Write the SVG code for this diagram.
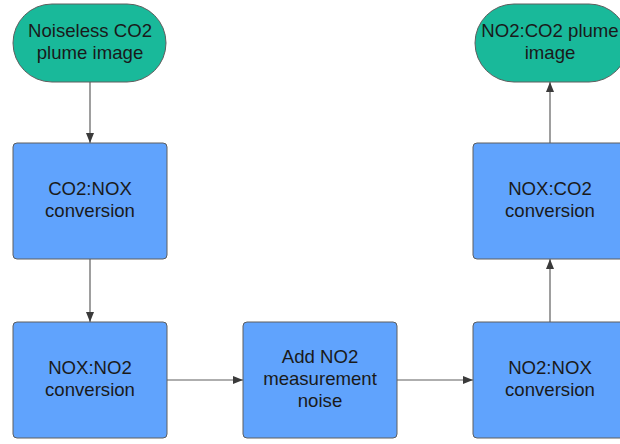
<svg xmlns="http://www.w3.org/2000/svg" width="620" height="444" viewBox="0 0 620 444">
<style>
.term{fill:#19B99A;stroke:#5E5E5E;stroke-width:1}
.proc{fill:#60A3FD;stroke:#5E5E5E;stroke-width:1}
text{font-family:"Liberation Sans",Arial,sans-serif;font-size:18.6px;fill:#1A1A1A;text-anchor:middle}
.conn{stroke:#5E5E5E;stroke-width:1.2;fill:none;marker-end:url(#ah)}
</style>
<defs>
<marker id="ah" viewBox="0 0 10 10" refX="10" refY="5" markerWidth="10" markerHeight="10" markerUnits="userSpaceOnUse" orient="auto">
<path d="M0,1 L10,5 L0,9 Z" fill="#3A3A3A"/>
</marker>
</defs>
<rect width="620" height="444" fill="#FFFFFF"/>
<g id="connectors">
<line class="conn" x1="90" y1="82" x2="90" y2="143"/>
<line class="conn" x1="90" y1="259" x2="90" y2="322"/>
<line class="conn" x1="167" y1="380" x2="243" y2="380"/>
<line class="conn" x1="397" y1="380" x2="473" y2="380"/>
<line class="conn" x1="550" y1="322" x2="550" y2="259"/>
<line class="conn" x1="550" y1="143" x2="550" y2="82"/>
</g>
<g id="n1">
<rect class="term" x="13" y="4" width="153" height="78" rx="39"/>
<text x="90" y="37">Noiseless CO2</text>
<text x="90" y="59">plume image</text>
</g>
<g id="n2">
<rect class="proc" x="13" y="143" width="154" height="116" rx="4"/>
<text x="90" y="195">CO2:NOX</text>
<text x="90" y="217">conversion</text>
</g>
<g id="n3">
<rect class="proc" x="13" y="322" width="154" height="116" rx="4"/>
<text x="90" y="374">NOX:NO2</text>
<text x="90" y="396">conversion</text>
</g>
<g id="n4">
<rect class="proc" x="243" y="322" width="154" height="116" rx="4"/>
<text x="320" y="363">Add NO2</text>
<text x="320" y="385">measurement</text>
<text x="320" y="407">noise</text>
</g>
<g id="n5">
<rect class="proc" x="473" y="322" width="154" height="116" rx="4"/>
<text x="550" y="374">NO2:NOX</text>
<text x="550" y="396">conversion</text>
</g>
<g id="n6">
<rect class="proc" x="473" y="143" width="154" height="116" rx="4"/>
<text x="550" y="195">NOX:CO2</text>
<text x="550" y="217">conversion</text>
</g>
<g id="n7">
<rect class="term" x="475" y="4" width="153" height="78" rx="39"/>
<text x="550" y="37">NO2:CO2 plume</text>
<text x="550" y="59">image</text>
</g>
</svg>
